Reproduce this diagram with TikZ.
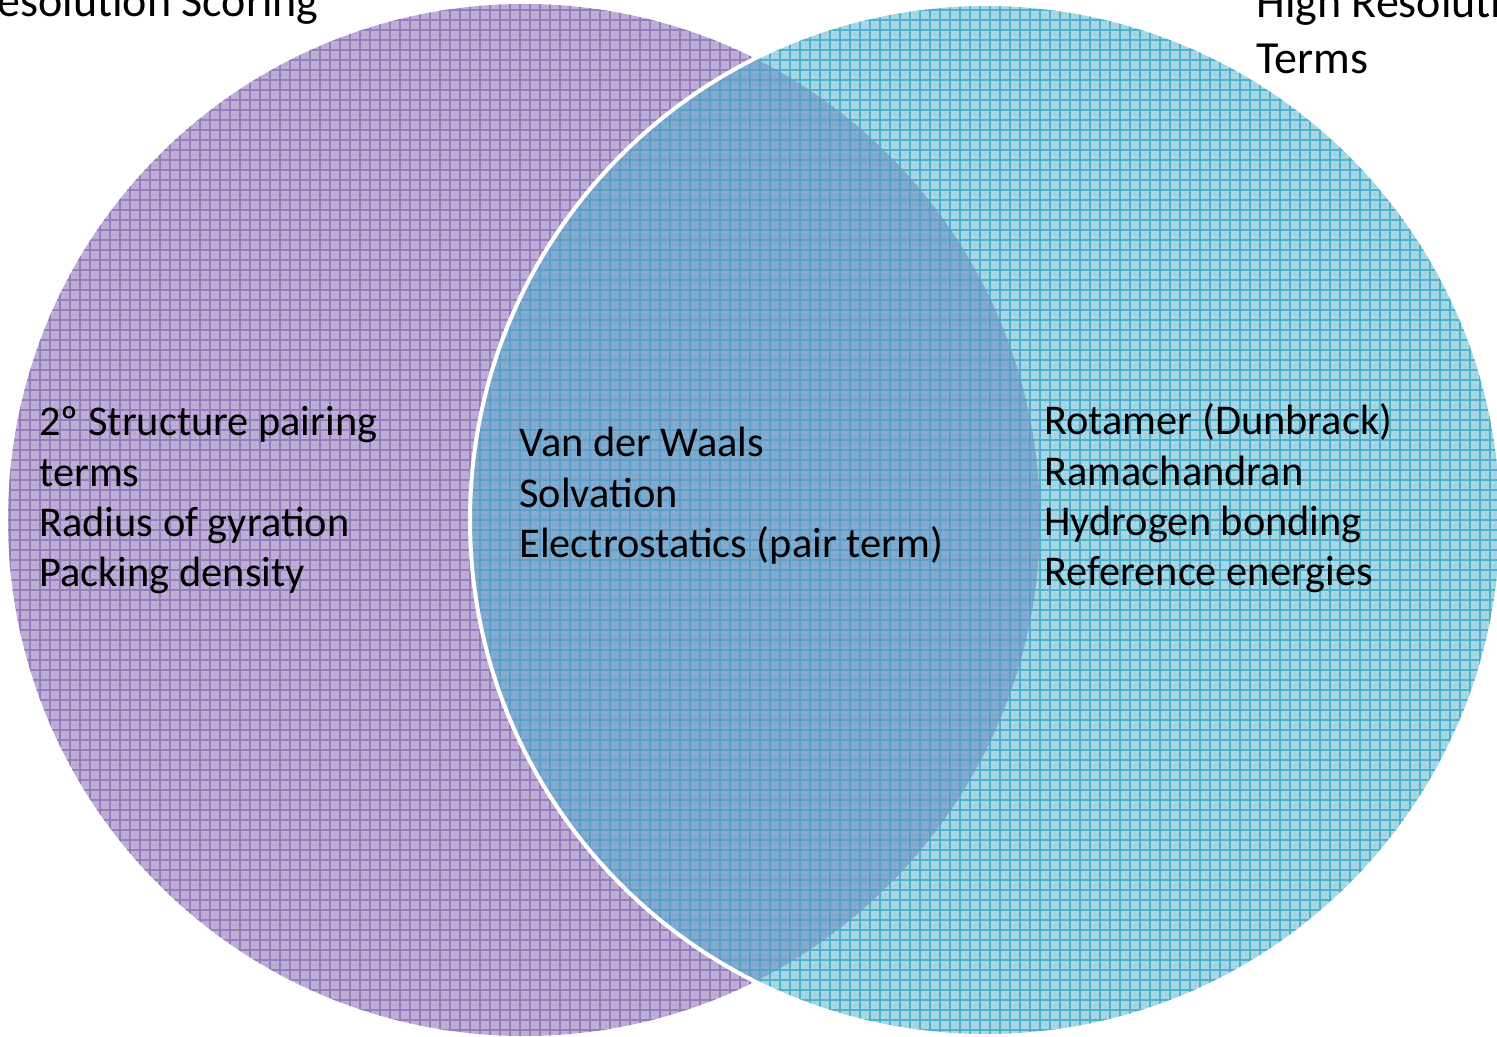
\documentclass[tikz,border=0pt]{standalone}
\usepackage{fontspec}
\setmainfont{Carlito}
\definecolor{purpF}{RGB}{191,175,214}
\definecolor{purpG}{RGB}{150,126,189}
\definecolor{cyanF}{RGB}{168,216,229}
\definecolor{cyanG}{RGB}{80,177,204}
\definecolor{ovF}{RGB}{130,171,207}
\definecolor{ovG}{RGB}{92,160,202}
\tikzset{
  gridline/.style={line width=0.85pt},
  fineline/.style={line width=0.5pt, dash pattern=on 1pt off 1pt, opacity=0.18},
  body/.style={anchor=base west, inner sep=0pt, font=\fontsize{21.2}{25.5}\selectfont, text=black},
  title/.style={inner sep=0pt, font=\fontsize{23}{27}\selectfont, text=black},
}
\newcommand{\gridfill}[3]{%
  \fill[#2] #1;
  \begin{scope}
    \clip #1;
    \draw[fineline, #3, xshift=2.5pt, yshift=2.5pt] (-20,-20) grid[xstep=5pt,ystep=5pt] (1520,1060);
    \draw[gridline, #3] (0,0) grid[xstep=5pt,ystep=5pt] (1497,1037);
  \end{scope}}
\begin{document}
\begin{tikzpicture}[x=0.5pt,y=-0.5pt]
\useasboundingbox (0,0) rectangle (1497,1037);
\clip (0,0) rectangle (1497,1037);
\coordinate (cL) at (524,520);
\coordinate (cR) at (986,520);
% left circle
\gridfill{(cL) circle (516)}{purpF}{purpG}
% right circle
\gridfill{(cR) circle (516)}{cyanF}{cyanG}
% overlap
\begin{scope}
  \clip (cL) circle (516);
  \gridfill{(cR) circle (516)}{ovF}{ovG}
\end{scope}
% white outline of right circle
\draw[white, line width=2pt] (cR) circle (516);
% titles
\node[title, anchor=base east] (tL) at (319,17) {Resolution Scoring};
\node[title, anchor=base west] (tR1) at (1256,18) {High Resolution};
\node[title, anchor=base west] (tR2) at (1256,74) {Terms};
% left texts
\node[body] (l1) at (39,435) {2º Structure pairing};
\node[body] (l2) at (39,486) {terms};
\node[body] (l3) at (39,536) {Radius of gyration};
\node[body] (l4) at (39,586) {Packing density};
% middle texts
\node[body] (m1) at (519,456) {Van der Waals};
\node[body] (m2) at (519,507) {Solvation};
\node[body] (m3) at (519,557) {Electrostatics (pair term)};
% right texts
\node[body] (r1) at (1044,434) {Rotamer (Dunbrack)};
\node[body] (r2) at (1044,485) {Ramachandran};
\node[body] (r3) at (1044,535) {Hydrogen bonding};
\node[body] (r4) at (1044,585) {Reference energies};
\end{tikzpicture}
\end{document}
